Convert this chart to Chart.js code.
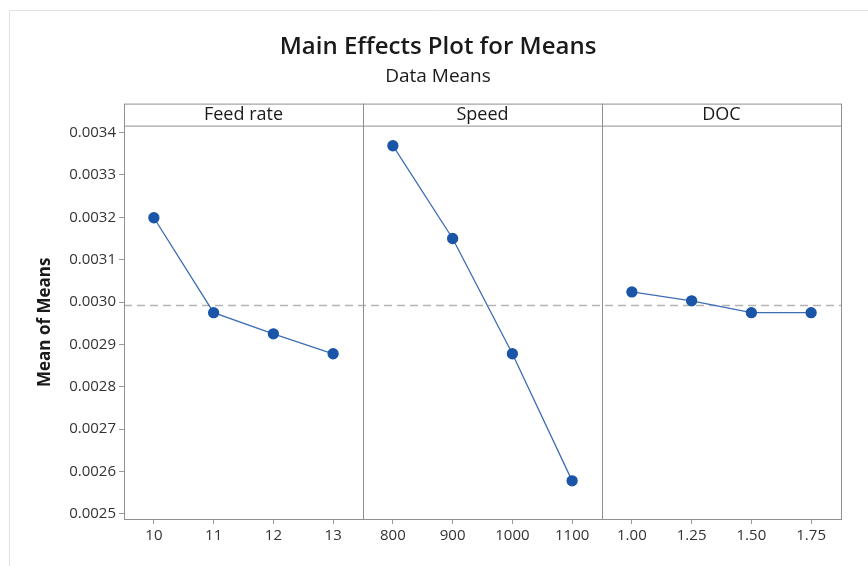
<!DOCTYPE html>
<html>
<head>
<meta charset="utf-8">
<script src="https://cdn.jsdelivr.net/npm/chart.js@4"></script>
<style>
  html, body { margin: 0; padding: 0; background: #ffffff; }
  #wrap { position: relative; width: 868px; height: 566px; }
</style>
</head>
<body>
<div id="wrap"><canvas id="mainEffects"></canvas></div>
<script>
// Dados do gráfico
const factors = ["Feed rate", "Speed", "DOC"];
const feedLevels = ["10", "11", "12", "13"];
const speedLevels = ["800", "900", "1000", "1100"];
const docLevels = ["1.00", "1.25", "1.50", "1.75"];
const feedMeans = [0.003199, 0.002975, 0.002925, 0.002878];
const speedMeans = [0.003369, 0.003150, 0.002878, 0.002578];
const docMeans = [0.003024, 0.003003, 0.002975, 0.002975];
const grandMean = 0.002992;
const yTicks = [0.0025, 0.0026, 0.0027, 0.0028, 0.0029, 0.0030, 0.0031, 0.0032, 0.0033, 0.0034];

const fontFamily = "'Open Sans', 'Noto Sans', sans-serif";
const lineColor = "#3d6db5";
const pointColor = "#1a55a8";
const frameColor = "#8f8f8f";

// Eixo X único com os 12 níveis, um painel por fator
const labels = [...feedLevels, ...speedLevels, ...docLevels];
const nPer = 4;

function panelData(values, panelIndex) {
  const arr = new Array(labels.length).fill(null);
  values.forEach((v, i) => { arr[panelIndex * nPer + i] = v; });
  return arr;
}

function makeDataset(name, values, panelIndex) {
  return {
    label: name,
    data: panelData(values, panelIndex),
    borderColor: lineColor,
    backgroundColor: pointColor,
    pointBackgroundColor: pointColor,
    pointBorderColor: pointColor,
    borderWidth: 1.3,
    pointRadius: 5,
    pointHoverRadius: 5,
    spanGaps: false,
    tension: 0
  };
}

// Plugin: linha da média geral, divisões dos painéis e cabeçalhos
const panelsPlugin = {
  id: "panels",
  beforeDatasetsDraw(chart) {
    const { ctx, chartArea, scales } = chart;
    const y = scales.y.getPixelForValue(grandMean);
    ctx.save();
    ctx.strokeStyle = "#b4b4b4";
    ctx.lineWidth = 1.5;
    ctx.setLineDash([8, 5]);
    ctx.beginPath();
    ctx.moveTo(chartArea.left, y);
    ctx.lineTo(chartArea.right, y);
    ctx.stroke();
    ctx.restore();
  },
  afterDraw(chart) {
    const { ctx, chartArea } = chart;
    const headerH = 22;
    const w = (chartArea.right - chartArea.left) / factors.length;
    ctx.save();
    ctx.strokeStyle = frameColor;
    ctx.lineWidth = 1;
    // moldura + cabeçalho
    ctx.strokeRect(chartArea.left + 0.5, chartArea.top - headerH + 0.5,
      chartArea.right - chartArea.left, chartArea.bottom - chartArea.top + headerH);
    ctx.beginPath();
    ctx.moveTo(chartArea.left, chartArea.top + 0.5);
    ctx.lineTo(chartArea.right, chartArea.top + 0.5);
    for (let i = 1; i < factors.length; i++) {
      const x = Math.round(chartArea.left + i * w) + 0.5;
      ctx.moveTo(x, chartArea.top - headerH);
      ctx.lineTo(x, chartArea.bottom);
    }
    ctx.stroke();
    ctx.fillStyle = "#1a1a1a";
    ctx.font = "18px " + fontFamily;
    ctx.textAlign = "center";
    ctx.textBaseline = "middle";
    factors.forEach((f, i) => {
      ctx.fillText(f, chartArea.left + (i + 0.5) * w, chartArea.top - headerH / 2);
    });
    ctx.restore();
  }
};

// Moldura clara em volta da figura
const outerFramePlugin = {
  id: "outerFrame",
  beforeDraw(chart) {
    const { ctx } = chart;
    ctx.save();
    ctx.strokeStyle = "#e2e2e2";
    ctx.lineWidth = 1;
    ctx.beginPath();
    ctx.moveTo(9.5, 566);
    ctx.lineTo(9.5, 10.5);
    ctx.lineTo(868, 10.5);
    ctx.stroke();
    ctx.restore();
  }
};

const ctx = document.getElementById("mainEffects").getContext("2d");
new Chart(ctx, {
  type: "line",
  data: {
    labels: labels,
    datasets: [
      makeDataset(factors[0], feedMeans, 0),
      makeDataset(factors[1], speedMeans, 1),
      makeDataset(factors[2], docMeans, 2)
    ]
  },
  options: {
    responsive: true,
    maintainAspectRatio: false,
    animation: false,
    layout: { padding: { left: 35, right: 27, top: 0, bottom: 0 } },
    scales: {
      x: {
        type: "category",
        offset: true,
        grid: {
          display: true,
          drawOnChartArea: false,
          drawTicks: true,
          tickLength: 5,
          color: "#9a9a9a"
        },
        border: { display: false },
        ticks: {
          color: "#333333",
          padding: 3,
          maxRotation: 0,
          autoSkip: false,
          font: { family: fontFamily, size: 15 }
        },
        afterFit(scale) { scale.height = 47; }
      },
      y: {
        min: 0.002488,
        max: 0.0034165,
        afterBuildTicks(scale) {
          scale.ticks = yTicks.map(v => ({ value: v }));
        },
        grid: {
          display: true,
          drawOnChartArea: false,
          drawTicks: true,
          tickLength: 5,
          color: "#9a9a9a"
        },
        border: { display: false },
        ticks: {
          color: "#333333",
          padding: 3,
          font: { family: fontFamily, size: 15 },
          callback: value => value.toFixed(4)
        },
        title: {
          display: true,
          text: "Mean of Means",
          color: "#1a1a1a",
          font: { family: fontFamily, size: 17, weight: "bold" },
          padding: { top: 0, bottom: 4 }
        },
        afterFit(scale) { scale.width = 89; }
      }
    },
    plugins: {
      legend: { display: false },
      tooltip: { enabled: false },
      title: {
        display: true,
        text: "Main Effects Plot for Means",
        color: "#1a1a1a",
        font: { family: fontFamily, size: 24, weight: "600" },
        padding: { top: 33, bottom: 2 }
      },
      subtitle: {
        display: true,
        text: "Data Means",
        color: "#1a1a1a",
        font: { family: fontFamily, size: 19, weight: "normal" },
        padding: { top: 1, bottom: 38 }
      }
    }
  },
  plugins: [panelsPlugin, outerFramePlugin]
});
</script>
</body>
</html>
